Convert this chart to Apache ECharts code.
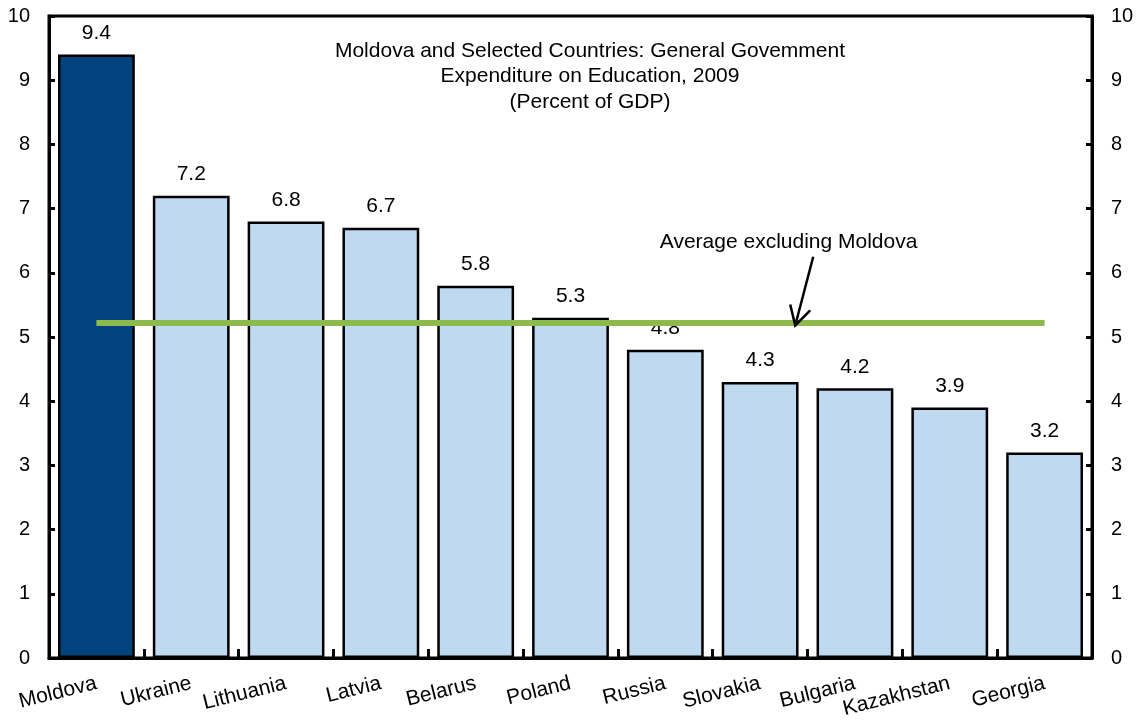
<!DOCTYPE html>
<html>
<head>
<meta charset="utf-8">
<script src="https://cdn.jsdelivr.net/npm/echarts@6/dist/echarts.min.js"></script>
<style>
  html, body { margin: 0; padding: 0; background: #fff; }
  #main { width: 1145px; height: 725px; }
</style>
</head>
<body>
<div id="main"></div>
<script>
// 数据
var countries = ['Moldova', 'Ukraine', 'Lithuania', 'Latvia', 'Belarus', 'Poland', 'Russia', 'Slovakia', 'Bulgaria', 'Kazakhstan', 'Georgia'];
var spending = [9.4, 7.2, 6.8, 6.7, 5.8, 5.3, 4.8, 4.3, 4.2, 3.9, 3.2];
var avgExMoldova = 5.22;
var yTicks = [0, 1, 2, 3, 4, 5, 6, 7, 8, 9, 10];

var chart = echarts.init(document.getElementById('main'));

var font = 'Liberation Sans, Arial, sans-serif';

var barData = spending.map(function (v, i) {
    return {
        value: v,
        itemStyle: { color: i === 0 ? '#00437D' : '#BFD9F0' }
    };
});

var yAxisCommon = {
    type: 'value',
    min: 0,
    max: 10,
    interval: 1,
    axisLine: { show: true, lineStyle: { color: '#000', width: 3 } },
    axisTick: { show: true, inside: true, length: 6, lineStyle: { color: '#000', width: 3 } },
    splitLine: { show: false },
    axisLabel: { color: '#000', fontSize: 20, fontFamily: font, margin: 19,
        formatter: function (v) { return yTicks.indexOf(v) >= 0 ? String(v) : ''; } }
};

var option = {
    animation: false,
    backgroundColor: '#fff',
    title: {
        text: 'Moldova and Selected Countries: General Govemment\nExpenditure on Education, 2009\n(Percent of GDP)',
        left: 585,
        top: 33,
        textAlign: 'center',
        textStyle: { fontFamily: font, fontSize: 21, fontWeight: 'normal', color: '#000', lineHeight: 25.5 }
    },
    grid: {
        left: 49, right: 53, top: 16, bottom: 67,
        show: true, borderColor: '#000', borderWidth: 3, backgroundColor: 'transparent'
    },
    xAxis: {
        type: 'category',
        data: countries,
        axisLine: { show: true, lineStyle: { color: '#000', width: 3 } },
        axisTick: { show: true, inside: true, length: 9, lineStyle: { color: '#000', width: 3 } },
        axisLabel: { color: '#000', fontSize: 21, fontFamily: font, rotate: 14, margin: 25, interval: 0 }
    },
    yAxis: [
        Object.assign({ position: 'left' }, yAxisCommon),
        Object.assign({ position: 'right' }, yAxisCommon)
    ],
    series: [
        {
            type: 'bar',
            data: barData,
            barCategoryGap: '19%',
            itemStyle: { borderColor: '#000', borderWidth: 2.5 },
            label: { show: true, position: 'top', distance: 11, color: '#000', fontSize: 21, fontFamily: font,
                formatter: function (p) { return p.value.toFixed(1); } },
            z: 2
        },
        {
            type: 'line',
            data: countries.map(function () { return avgExMoldova; }),
            symbol: 'none',
            lineStyle: { color: '#8CBA4C', width: 6 },
            z: 3
        }
    ]
};

chart.setOption(option);

// 注释：箭头与文字（类目轴位置用相邻两个类目中心插值）
function catX(f) {
    var a = chart.convertToPixel({ gridIndex: 0 }, [Math.floor(f), 0])[0];
    var b = chart.convertToPixel({ gridIndex: 0 }, [Math.floor(f) + 1, 0])[0];
    return a + (b - a) * (f - Math.floor(f));
}
function valY(v) {
    return chart.convertToPixel({ gridIndex: 0 }, [0, v])[1];
}
var tail = [catX(7.56), valY(6.25)];
var tip = [catX(7.37), valY(5.18)];
var textPos = [catX(7.3), valY(6.48)];

chart.setOption({
    graphic: [
        {
            type: 'text',
            x: textPos[0], y: textPos[1],
            style: { text: 'Average excluding Moldova', font: '21px ' + font, fill: '#000',
                align: 'center', verticalAlign: 'middle' },
            z: 10
        },
        {
            type: 'line',
            shape: { x1: tail[0], y1: tail[1], x2: tip[0], y2: tip[1] },
            style: { stroke: '#000', lineWidth: 2.5 },
            z: 10
        },
        {
            type: 'polyline',
            shape: { points: [[tip[0] - 5, tip[1] - 21], [tip[0], tip[1]], [tip[0] + 15, tip[1] - 15]] },
            style: { stroke: '#000', lineWidth: 2.5, fill: null },
            z: 10
        }
    ]
});
</script>
</body>
</html>
